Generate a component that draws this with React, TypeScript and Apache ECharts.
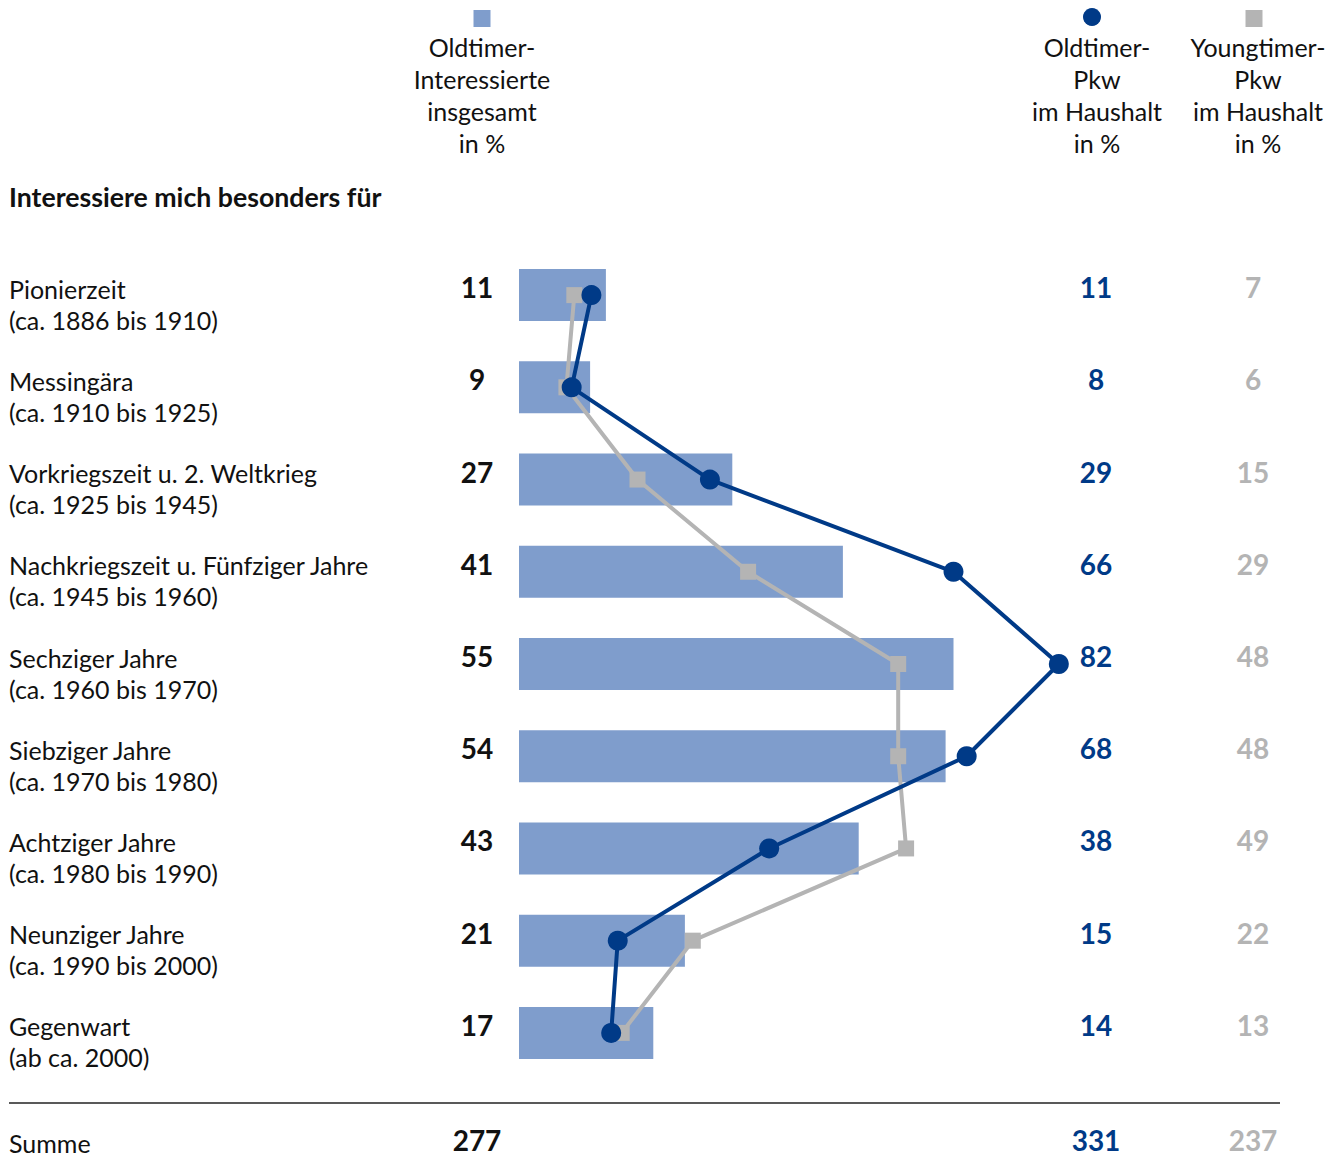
import React, { useEffect, useRef } from "react";
import * as echarts from "echarts";

const categories = [
  "Pionierzeit",
  "Messingära",
  "Vorkriegszeit u. 2. Weltkrieg",
  "Nachkriegszeit u. Fünfziger Jahre",
  "Sechziger Jahre",
  "Siebziger Jahre",
  "Achtziger Jahre",
  "Neunziger Jahre",
  "Gegenwart",
];
const periods = [
  "(ca. 1886 bis 1910)",
  "(ca. 1910 bis 1925)",
  "(ca. 1925 bis 1945)",
  "(ca. 1945 bis 1960)",
  "(ca. 1960 bis 1970)",
  "(ca. 1970 bis 1980)",
  "(ca. 1980 bis 1990)",
  "(ca. 1990 bis 2000)",
  "(ab ca. 2000)",
];
const interessierte = [11, 9, 27, 41, 55, 54, 43, 21, 17];
const oldtimerPkw = [11, 8, 29, 66, 82, 68, 38, 15, 14];
const youngtimerPkw = [7, 6, 15, 29, 48, 48, 49, 22, 13];
const sums = [277, 331, 237];
const sumLabel = "Summe";
const sectionTitle = "Interessiere mich besonders für";
const legendTitles = [
  "Oldtimer-\nInteressierte\ninsgesamt\nin %",
  "Oldtimer-\nPkw\nim Haushalt\nin %",
  "Youngtimer-\nPkw\nim Haushalt\nin %",
];

const FONT = "Lato";
const C_BAR = "#7f9dcc";
const C_BLUE = "#003a87";
const C_GRAY = "#b4b4b4";
const C_TEXT = "#111111";

const GRID_LEFT = 519;
const colX = [477, 1096, 1253];
const legendX = [482, 1097, 1258];
const markerX = [482, 1092, 1254];
const colColors = [C_TEXT, C_BLUE, C_GRAY];
const colValues = [interessierte, oldtimerPkw, youngtimerPkw];

export default function App() {
  const ref = useRef<HTMLDivElement>(null);
  useEffect(() => {
    if (!ref.current) return;
    const chart = echarts.init(ref.current, null, { renderer: "svg" });

    const valueAxes = colValues.map((vals, k) => ({
      type: "category" as const,
      data: categories,
      inverse: true,
      position: "left" as const,
      offset: GRID_LEFT - colX[k],
      gridIndex: 0,
      axisLine: { show: false },
      axisTick: { show: false },
      splitLine: { show: false },
      axisLabel: {
        interval: 0,
        margin: 0,
        align: "center" as const,
        formatter: (_v: string, i: number) => "{v|" + vals[i] + "}\n{s| }",
        rich: {
          v: {
            fontFamily: FONT,
            fontWeight: "bold" as const,
            fontSize: 28,
            lineHeight: 16,
            color: colColors[k],
            align: "center" as const,
          },
          s: { fontSize: 8, lineHeight: 16 },
        },
      },
    }));

    const graphics: any[] = [
      {
        type: "text",
        x: 9,
        y: 197,
        style: {
          text: sectionTitle,
          fontFamily: FONT,
          fontWeight: "bold",
          fontSize: 26.7,
          fill: C_TEXT,
          textVerticalAlign: "middle",
        },
      },
      {
        type: "rect",
        shape: { x: markerX[0] - 8.5, y: 10, width: 17, height: 17 },
        style: { fill: C_BAR },
      },
      {
        type: "circle",
        shape: { cx: markerX[1], cy: 17, r: 9 },
        style: { fill: C_BLUE },
      },
      {
        type: "rect",
        shape: { x: markerX[2] - 8.5, y: 10, width: 17, height: 17 },
        style: { fill: C_GRAY },
      },
      {
        type: "line",
        shape: { x1: 9, y1: 1103, x2: 1280, y2: 1103 },
        style: { stroke: "#222", lineWidth: 1.5 },
      },
      {
        type: "text",
        x: 9,
        y: 1143,
        style: {
          text: sumLabel,
          fontFamily: FONT,
          fontSize: 25,
          fill: C_TEXT,
          textVerticalAlign: "middle",
        },
      },
    ];
    legendTitles.forEach((t, k) => {
      graphics.push({
        type: "text",
        x: legendX[k],
        y: 31,
        style: {
          text: t,
          fontFamily: FONT,
          fontSize: 25,
          lineHeight: 32,
          fill: C_TEXT,
          textAlign: "center",
          textVerticalAlign: "top",
        },
      });
    });
    sums.forEach((s, k) => {
      graphics.push({
        type: "text",
        x: colX[k],
        y: 1140,
        style: {
          text: String(s),
          fontFamily: FONT,
          fontWeight: "bold",
          fontSize: 28,
          fill: colColors[k],
          textAlign: "center",
          textVerticalAlign: "middle",
        },
      });
    });

    chart.setOption({
      animation: false,
      grid: { left: GRID_LEFT, top: 249, width: 790, height: 830 },
      xAxis: [
        { type: "value", min: 0, max: 100, show: false, splitLine: { show: false } },
        { type: "value", min: 0, max: 120, show: false, splitLine: { show: false } },
      ],
      yAxis: [
        {
          type: "category",
          data: categories,
          inverse: true,
          position: "left",
          axisLine: { show: false },
          axisTick: { show: false },
          splitLine: { show: false },
          axisLabel: {
            interval: 0,
            margin: GRID_LEFT - 9,
            align: "left",
            formatter: (_v: string, i: number) =>
              "{s| }\n{t|" + categories[i] + "}\n{t|" + periods[i] + "}",
            rich: {
              s: { fontSize: 8, lineHeight: 18 },
              t: {
                fontFamily: FONT,
                fontSize: 25,
                lineHeight: 31,
                color: C_TEXT,
                align: "left" as const,
              },
            },
          },
        },
        ...valueAxes,
      ],
      graphic: graphics,
      series: [
        {
          type: "bar",
          data: interessierte,
          xAxisIndex: 0,
          yAxisIndex: 0,
          barWidth: 52,
          itemStyle: { color: C_BAR },
          z: 1,
        },
        {
          type: "line",
          data: youngtimerPkw,
          xAxisIndex: 0,
          yAxisIndex: 0,
          symbol: "rect",
          symbolSize: 16,
          lineStyle: { color: C_GRAY, width: 4 },
          itemStyle: { color: C_GRAY },
          z: 2,
        },
        {
          type: "line",
          data: oldtimerPkw,
          xAxisIndex: 1,
          yAxisIndex: 0,
          symbol: "circle",
          symbolSize: 20,
          lineStyle: { color: C_BLUE, width: 4 },
          itemStyle: { color: C_BLUE },
          z: 3,
        },
      ],
    });
    return () => chart.dispose();
  }, []);
  return (
    <div
      ref={ref}
      style={{ position: "absolute", left: 0, top: 0, width: 1341, height: 1159 }}
    />
  );
}
